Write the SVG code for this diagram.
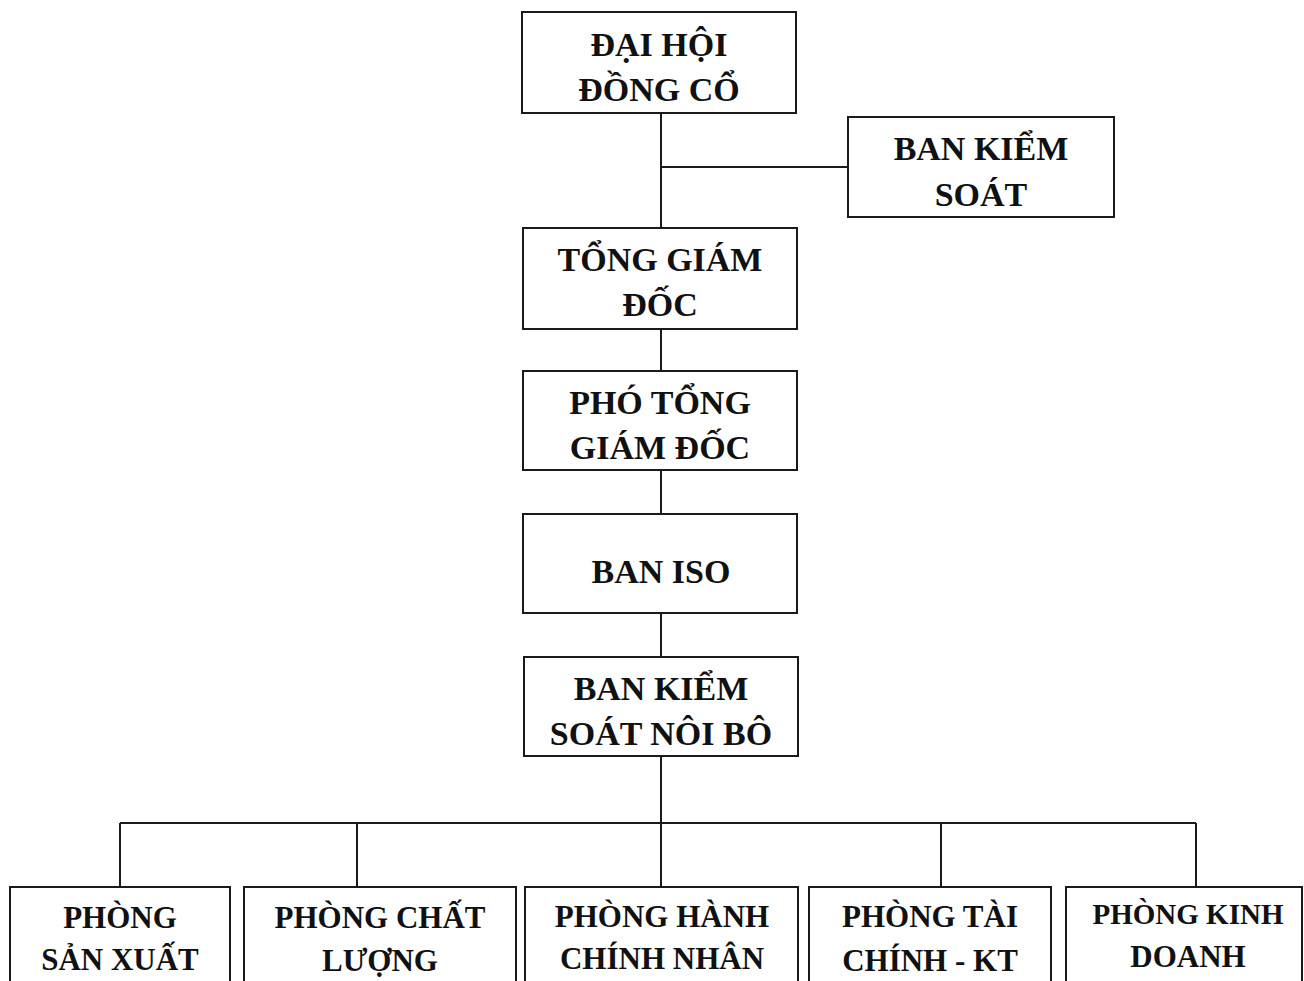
<svg xmlns="http://www.w3.org/2000/svg" width="1304" height="981" viewBox="0 0 1304 981">
<style>
.box{fill:#fff;stroke:#1a1a1a;stroke-width:2}
.t{font-family:"Liberation Serif","Times New Roman",serif;font-weight:bold;font-size:34px;fill:#111;text-anchor:middle}
.b{font-size:31px}
.k{font-size:29px}
.ln{stroke:#1a1a1a;stroke-width:2;fill:none}
</style>
<rect width="1304" height="981" fill="#fff"/>
<g id="connectors">
<path class="ln" d="M661 113V228M661 167H848M661 329V371M661 470V514M661 613V657M661 756V823M120 823H1196M120 823V887M357 823V887M661 823V887M941 823V887M1196 823V887"/>
</g>
<g id="dai-hoi"><rect class="box" x="522" y="12" width="274" height="101"/><text class="t" x="659" y="56">ĐẠI HỘI</text><text class="t" x="659" y="101">ĐỒNG CỔ</text></g>
<g id="ban-kiem-soat"><rect class="box" x="848" y="117" width="266" height="100"/><text class="t" x="981" y="160">BAN KIỂM</text><text class="t" x="981" y="206">SOÁT</text></g>
<g id="tong-giam-doc"><rect class="box" x="523" y="228" width="274" height="101"/><text class="t" x="660" y="271">TỔNG GIÁM</text><text class="t" x="660" y="316">ĐỐC</text></g>
<g id="pho-tong"><rect class="box" x="523" y="371" width="274" height="99"/><text class="t" x="660" y="414">PHÓ TỔNG</text><text class="t" x="660" y="459">GIÁM ĐỐC</text></g>
<g id="ban-iso"><rect class="box" x="523" y="514" width="274" height="99"/><text class="t" x="661" y="583">BAN ISO</text></g>
<g id="ban-kiem-soat-noi-bo"><rect class="box" x="524" y="657" width="274" height="99"/><text class="t" x="661" y="700">BAN KIỂM</text><text class="t" x="661" y="745">SOÁT NÔI BÔ</text></g>
<g id="phong-san-xuat"><rect class="box" x="10" y="887" width="220" height="110"/><text class="t b" x="120" y="928">PHÒNG</text><text class="t b" x="120" y="970">SẢN XUẤT</text></g>
<g id="phong-chat-luong"><rect class="box" x="244" y="887" width="272" height="110"/><text class="t b" x="380" y="928">PHÒNG CHẤT</text><text class="t b" x="380" y="971">LƯỢNG</text></g>
<g id="phong-hanh-chinh"><rect class="box" x="525" y="887" width="273" height="110"/><text class="t b" x="662" y="927">PHÒNG HÀNH</text><text class="t b" x="662" y="969">CHÍNH NHÂN</text></g>
<g id="phong-tai-chinh"><rect class="box" x="809" y="887" width="242" height="110"/><text class="t b" x="930" y="927">PHÒNG TÀI</text><text class="t b" x="930" y="971">CHÍNH - KT</text></g>
<g id="phong-kinh-doanh"><rect class="box" x="1066" y="887" width="236" height="110"/><text class="t k" x="1188" y="924">PHÒNG KINH</text><text class="t b" x="1188" y="967">DOANH</text></g>
</svg>
